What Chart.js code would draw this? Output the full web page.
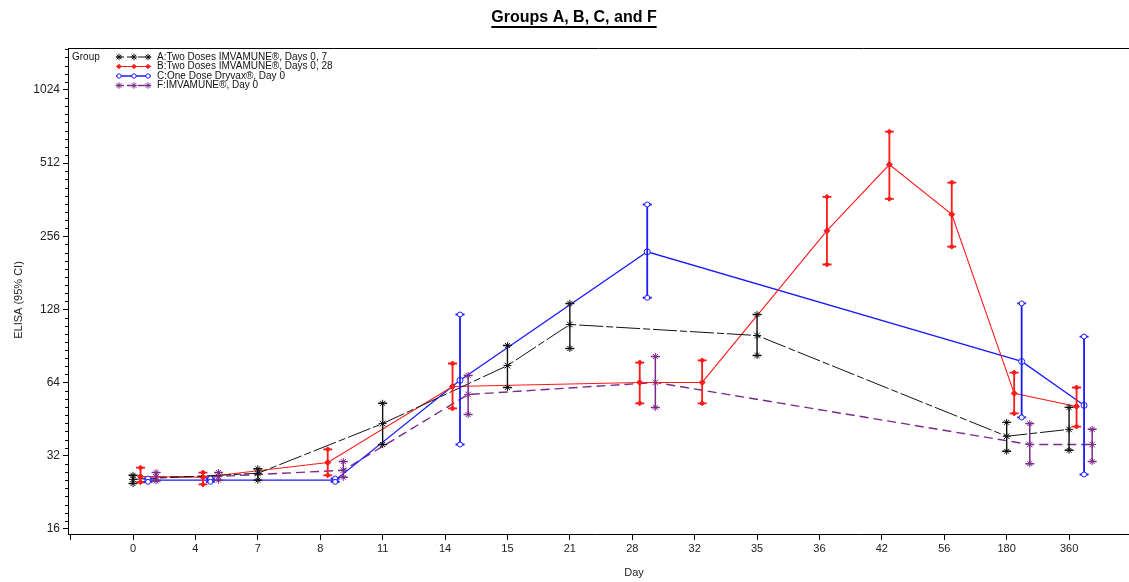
<!DOCTYPE html>
<html>
<head>
<meta charset="utf-8">
<title>Groups A, B, C, and F</title>
<script src="https://cdn.jsdelivr.net/npm/chart.js@4.4.1/dist/chart.umd.min.js"></script>
<style>
  html, body { margin: 0; padding: 0; background: #fff; }
  #wrap { width: 1129px; height: 582px; }
</style>
</head>
<body>
<div id="wrap"><canvas id="elisaChart" width="1129" height="582"></canvas></div>
<script>
// x axis is categorical: one slot per study day
const dayLabels = ['0', '4', '7', '8', '11', '14', '15', '21', '28', '32', '35', '36', '42', '56', '180', '360'];
const yTicks = [16, 32, 64, 128, 256, 512, 1024];

// A: Two Doses IMVAMUNE, Days 0, 7
const aDays = [0, 7, 11, 15, 21, 35, 180, 360];
const aMean = [25.6, 27.1, 43.4, 75.2, 111, 100, 38.5, 41.1];
const aLow  = [24.6, 25.4, 35.6, 61.1, 88.4, 82.7, 33.4, 33.7];
const aHigh = [26.6, 28.3, 52.6, 91, 135.5, 122, 43.9, 50.6];

// B: Two Doses IMVAMUNE, Days 0, 28
const bDays = [0, 4, 8, 14, 28, 32, 36, 42, 56, 180, 360];
const bMean = [26.3, 26.1, 30, 61.7, 64.1, 64.1, 270, 505, 315, 57.8, 51];
const bLow  = [24.9, 24.4, 26.6, 50.1, 52.6, 52.6, 196, 365, 232, 47.8, 42.2];
const bHigh = [28.6, 27.3, 34, 76.7, 77.4, 79, 372, 690, 426, 70.4, 61.1];

// C: One Dose Dryvax, Day 0
const cDays = [0, 4, 8, 14, 28, 180, 360];
const cMean = [25.4, 25.4, 25.4, 65.4, 221, 78.2, 51.6];
const cLow  = [25, 25, 25, 35.6, 143, 46, 26.8];
const cHigh = [25.8, 25.8, 25.8, 122, 346, 135.5, 99];

// F: IMVAMUNE, Day 0
const fDays = [0, 4, 8, 14, 28, 180, 360];
const fMean = [26.2, 26.3, 27.9, 57.2, 64.1, 35.6, 35.6];
const fLow  = [25.2, 25.4, 26.1, 47.3, 50.6, 29.7, 30.3];
const fHigh = [27.3, 27.3, 30.3, 68.5, 82, 43.4, 41.1];

const FONT = "'Liberation Sans', Arial, sans-serif";

function dayIndex(d) {
    return dayLabels.indexOf(String(d));
}

// each group is nudged right a little so the bars don't overlap
const groups = [
    { label: 'A:Two Doses IMVAMUNE®, Days 0, 7', days: aDays, mean: aMean, low: aLow, high: aHigh,
      offset: 0, color: '#111', line: 1, dash: [24, 3, 7, 3], style: 'star', radius: 4, fill: '#111', barWidth: 1.4 },
    { label: 'B:Two Doses IMVAMUNE®, Days 0, 28', days: bDays, mean: bMean, low: bLow, high: bHigh,
      offset: 0.12, color: '#ff1a1a', line: 1.1, dash: [], style: 'rectRot', radius: 3, fill: '#ff1a1a', barWidth: 1.8 },
    { label: 'C:One Dose Dryvax®, Day 0', days: cDays, mean: cMean, low: cLow, high: cHigh,
      offset: 0.24, color: '#1a1aff', line: 1.3, dash: [], style: 'circle', radius: 3, fill: '#fff', barWidth: 1.8 },
    { label: 'F:IMVAMUNE®, Day 0', days: fDays, mean: fMean, low: fLow, high: fHigh,
      offset: 0.37, color: '#7b2a8c', line: 1.4, dash: [9, 5], style: 'star', radius: 4, fill: '#7b2a8c', barWidth: 1.5 }
];

function marker(ctx, style, radius, x, y) {
    if (Chart.helpers && Chart.helpers.drawPoint) {
        Chart.helpers.drawPoint(ctx, { pointStyle: style, radius: radius, rotation: 0, borderWidth: 1 }, x, y);
    } else {
        ctx.beginPath();
        ctx.arc(x, y, radius, 0, Math.PI * 2);
        ctx.fill();
        ctx.stroke();
    }
}

// 95% CI whiskers with caps and end symbols
const errorBars = {
    id: 'errorBars',
    afterDatasetsDraw(chart) {
        const { ctx, scales: { x, y } } = chart;
        groups.forEach(g => {
            g.days.forEach((d, i) => {
                const px = x.getPixelForValue(dayIndex(d) + g.offset);
                const top = y.getPixelForValue(g.high[i]);
                const bot = y.getPixelForValue(g.low[i]);
                ctx.save();
                ctx.strokeStyle = g.color;
                ctx.lineWidth = g.barWidth;
                ctx.beginPath();
                ctx.moveTo(px, top);
                ctx.lineTo(px, bot);
                ctx.moveTo(px - 4.5, top);
                ctx.lineTo(px + 4.5, top);
                ctx.moveTo(px - 4.5, bot);
                ctx.lineTo(px + 4.5, bot);
                ctx.stroke();
                ctx.lineWidth = 1;
                ctx.fillStyle = g.fill;
                marker(ctx, g.style, g.radius - 0.5, px, top);
                marker(ctx, g.style, g.radius - 0.5, px, bot);
                ctx.restore();
            });
        });
    }
};

// title, frame, minor ticks, axis titles and the legend
const decorations = {
    id: 'decorations',
    afterDraw(chart) {
        const { ctx, chartArea, scales: { y } } = chart;
        ctx.save();

        // top frame line, runs off the right edge like the original
        ctx.strokeStyle = '#000';
        ctx.lineWidth = 1;
        ctx.beginPath();
        ctx.moveTo(chartArea.left, chartArea.top + 0.5);
        ctx.lineTo(chart.width, chartArea.top + 0.5);
        ctx.moveTo(chartArea.right, chartArea.bottom + 0.5);
        ctx.lineTo(chart.width, chartArea.bottom + 0.5);
        ctx.stroke();

        // minor ticks on the log axis
        ctx.beginPath();
        for (let p = 4; p < 11; p++) {
            for (let k = 1; k < 9; k++) {
                const v = Math.pow(2, p + k / 9);
                if (v > y.max) break;
                const py = Math.round(y.getPixelForValue(v)) + 0.5;
                ctx.moveTo(chartArea.left - 3, py);
                ctx.lineTo(chartArea.left, py);
            }
        }
        ctx.stroke();

        // title
        ctx.fillStyle = '#000';
        ctx.font = 'bold 16px ' + FONT;
        ctx.textAlign = 'center';
        ctx.textBaseline = 'alphabetic';
        const title = 'Groups A, B, C, and F';
        ctx.fillText(title, 574, 22);
        const tw = ctx.measureText(title).width;
        ctx.lineWidth = 2;
        ctx.beginPath();
        ctx.moveTo(574 - tw / 2, 27);
        ctx.lineTo(574 + tw / 2, 27);
        ctx.stroke();

        // axis titles
        ctx.fillStyle = '#222';
        ctx.font = '11px ' + FONT;
        ctx.textBaseline = 'middle';
        ctx.fillText('Day', 634, 573);
        ctx.save();
        ctx.translate(19, 300);
        ctx.rotate(-Math.PI / 2);
        ctx.fillText('ELISA (95% CI)', 0, 0);
        ctx.restore();

        // legend
        ctx.font = '10px ' + FONT;
        ctx.textAlign = 'left';
        ctx.fillStyle = '#111';
        ctx.fillText('Group', 72, 57);
        groups.forEach((g, i) => {
            const ly = 57 + i * 9.5;
            ctx.save();
            ctx.strokeStyle = g.color;
            ctx.lineWidth = g.line;
            ctx.setLineDash(g.dash.length ? [8, 3] : []);
            ctx.beginPath();
            ctx.moveTo(116, ly);
            ctx.lineTo(151, ly);
            ctx.stroke();
            ctx.setLineDash([]);
            ctx.lineWidth = 1;
            ctx.fillStyle = g.fill;
            [119, 134, 148].forEach(mx => marker(ctx, g.style, g.radius - 0.8, mx, ly));
            ctx.restore();
            ctx.fillStyle = '#111';
            ctx.fillText(g.label, 157, ly);
        });

        ctx.restore();
    }
};

const ctx = document.getElementById('elisaChart').getContext('2d');

new Chart(ctx, {
    type: 'line',
    data: {
        datasets: groups.map(g => ({
            label: g.label,
            data: g.days.map((d, i) => ({ x: dayIndex(d) + g.offset, y: g.mean[i] })),
            borderColor: g.color,
            borderWidth: g.line,
            borderDash: g.dash,
            pointStyle: g.style,
            pointRadius: g.radius,
            pointBorderWidth: 1,
            pointBorderColor: g.color,
            pointBackgroundColor: g.fill,
            tension: 0,
            fill: false
        }))
    },
    options: {
        responsive: false,
        animation: false,
        devicePixelRatio: 1,
        layout: { padding: { top: 48, right: 0, bottom: 0, left: 0 } },
        plugins: {
            legend: { display: false },
            tooltip: { enabled: false }
        },
        scales: {
            x: {
                type: 'linear',
                min: -1.042,
                max: 15.88,
                afterBuildTicks: scale => {
                    scale.ticks = [-1].concat(dayLabels.map((_, i) => i)).map(v => ({ value: v }));
                },
                afterFit: scale => { scale.height = 48; },
                ticks: {
                    autoSkip: false,
                    maxRotation: 0,
                    padding: 2,
                    color: '#222',
                    font: { family: FONT, size: 11 },
                    callback: v => dayLabels[v] !== undefined ? dayLabels[v] : ''
                },
                grid: { drawOnChartArea: false, tickLength: 6, color: '#000' },
                border: { color: '#000', width: 1 }
            },
            y: {
                type: 'logarithmic',
                min: 15.25,
                max: 1524,
                afterBuildTicks: scale => {
                    scale.ticks = yTicks.map(v => ({ value: v }));
                },
                afterFit: scale => { scale.width = 68; },
                ticks: {
                    padding: 3,
                    color: '#222',
                    font: { family: FONT, size: 12 },
                    callback: v => String(v)
                },
                grid: { drawOnChartArea: false, tickLength: 5, color: '#000' },
                border: { color: '#000', width: 1 }
            }
        }
    },
    plugins: [errorBars, decorations]
});
</script>
</body>
</html>
